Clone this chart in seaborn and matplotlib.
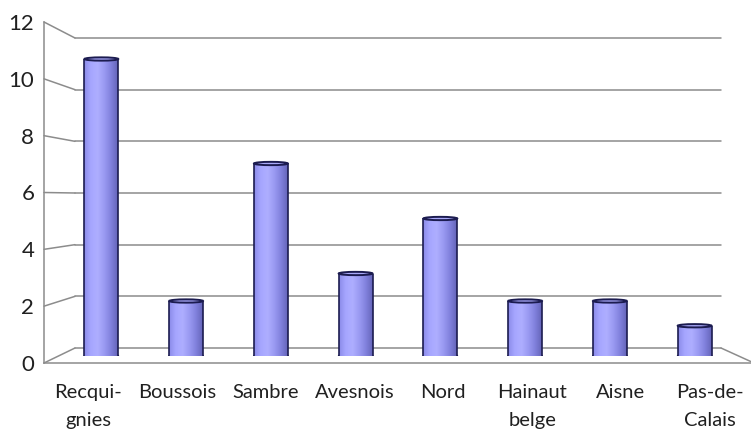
import numpy as np
import pandas as pd
import seaborn as sns
import matplotlib
matplotlib.use("Agg")
import matplotlib.pyplot as plt
from matplotlib.colors import LinearSegmentedColormap
from matplotlib.patches import Ellipse
from matplotlib.lines import Line2D

# ---- data ----
categories = ["Recqui-\ngnies", "Boussois", "Sambre", "Avesnois", "Nord",
              "Hainaut\nbelge", "Aisne", "Pas-de-\nCalais"]
values = [10.8, 2, 7, 3, 5, 2, 2, 1.1]
y_ticks = [0, 2, 4, 6, 8, 10, 12]

sns.set_style("white")
plt.rcParams["font.family"] = ["Lato", "DejaVu Sans"]

W, H = 751, 430
fig = plt.figure(figsize=(W / 100, H / 100), dpi=100)


def rect(l, r, top, bottom):
    return [l / W, 1 - bottom / H, (r - l) / W, (bottom - top) / H]


grid_col = "#8c8c8c"
text_col = "#202020"

# back wall with gridlines
ax_back = fig.add_axes(rect(75, 721, 38, 348), zorder=0)
ax_back.set_xlim(0, 1)
ax_back.set_ylim(0, 12)
for v in y_ticks:
    ax_back.axhline(v, color=grid_col, lw=1.1, clip_on=False)
ax_back.axis("off")

# front axis (ticks + labels)
ax_front = fig.add_axes(rect(44, 754, 22, 363), zorder=1)
ax_front.patch.set_alpha(0)
ax_front.set_xlim(0, 8)
ax_front.set_ylim(0, 12)
ax_front.set_yticks(y_ticks)
ax_front.set_yticklabels([str(v) for v in y_ticks], fontsize=16, color=text_col)
ax_front.set_xticks(range(9))
ax_front.set_xticklabels([""] * 9)
ax_front.set_xticks([i + 0.5 for i in range(len(categories))], minor=True)
ax_front.set_xticklabels(categories, minor=True, fontsize=14.5, color=text_col)
for lab in ax_front.get_xticklabels(minor=True):
    lab.set_linespacing(1.8)
ax_front.tick_params(axis="x", which="major", length=4, width=1, color=grid_col, direction="out")
ax_front.tick_params(axis="x", which="minor", length=0, pad=15)
ax_front.tick_params(axis="y", length=4, width=1, color=grid_col, direction="out", pad=3)
for s in ["top", "right"]:
    ax_front.spines[s].set_visible(False)
for s in ["left", "bottom"]:
    ax_front.spines[s].set_color(grid_col)
    ax_front.spines[s].set_linewidth(1.1)

# diagonal connectors between front axis and back wall
inv = fig.transFigure.inverted()
for v in y_ticks:
    p0 = inv.transform(ax_front.transData.transform((0, v)))
    p1 = inv.transform(ax_back.transData.transform((0, v)))
    fig.add_artist(Line2D([p0[0], p1[0]], [p0[1], p1[1]], transform=fig.transFigure,
                          color=grid_col, lw=1.1, zorder=0.5))
p0 = inv.transform(ax_front.transData.transform((8, 0)))
p1 = inv.transform(ax_back.transData.transform((1, 0)))
fig.add_artist(Line2D([p0[0], p1[0]], [p0[1], p1[1]], transform=fig.transFigure,
                      color=grid_col, lw=1.1, zorder=0.5))

# bars (cylinders) in the middle plane
ax_bars = fig.add_axes(rect(59, 737, 26, 356), zorder=2)
ax_bars.patch.set_alpha(0)
df = pd.DataFrame({"cat": categories, "val": values})
sns.barplot(data=df, x="cat", y="val", ax=ax_bars, color="#9999ff", width=0.4,
            edgecolor="none", saturation=1)
ax_bars.set_xlim(-0.5, len(categories) - 0.5)
ax_bars.set_ylim(0, 12)
ax_bars.axis("off")

cmap = LinearSegmentedColormap.from_list(
    "cyl", ["#8a8ae8", "#a6a6ff", "#aeaeff", "#9a9af2", "#8080dc", "#6464b8"])
grad = np.linspace(0, 1, 256).reshape(1, -1)
edge = "#1c1c50"
ell_h = 0.12
for p in list(ax_bars.patches):
    x0, w, h = p.get_x(), p.get_width(), p.get_height()
    xc = x0 + w / 2
    # bottom rounded edge
    ax_bars.add_patch(Ellipse((xc, 0), w, ell_h * 1.6, facecolor="#7a7ad6",
                              edgecolor=edge, lw=1.2, zorder=1.5))
    im = ax_bars.imshow(grad, cmap=cmap, aspect="auto", extent=[x0, x0 + w, 0, h],
                        zorder=2, interpolation="bicubic")
    im.set_clip_path(p)
    p.set_facecolor("none")
    ax_bars.vlines([x0, x0 + w], 0, h, colors=edge, lw=1.2, zorder=3)
    ax_bars.add_patch(Ellipse((xc, h), w, ell_h, facecolor="#a8a8f8",
                              edgecolor=edge, lw=1.4, zorder=4))
ax_bars.set_xlim(-0.5, len(categories) - 0.5)
ax_bars.set_ylim(0, 12)

fig.savefig("out.png", dpi=100)
